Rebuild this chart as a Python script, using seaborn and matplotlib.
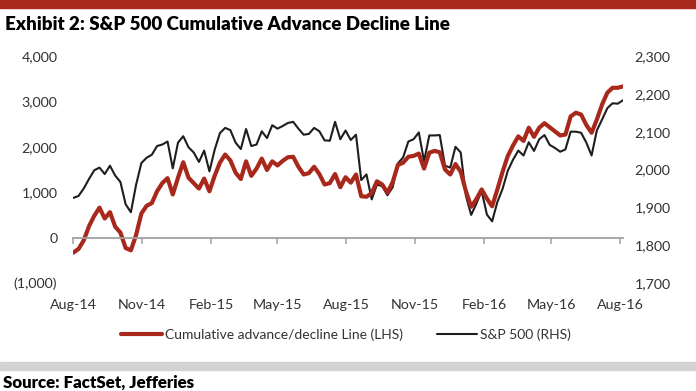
import numpy as np
import pandas as pd
import matplotlib
matplotlib.use("Agg")
import matplotlib.pyplot as plt
import matplotlib.dates as mdates
import seaborn as sns
from matplotlib.lines import Line2D

# ---- data (weekly, Friday closes) ----
start_date = "2014-08-01"
n_weeks = 106
ad_line = [-330, -250, -60, 250, 480, 660, 420, 560, 240, 110,
           -230, -280, 60, 530, 700, 760, 1020, 1200, 1310, 950,
           1320, 1660, 1320, 1200, 1080, 1300, 1020, 1360, 1650, 1830,
           1700, 1430, 1290, 1680, 1360, 1520, 1740, 1490, 1680, 1590,
           1690, 1770, 1780, 1560, 1390, 1420, 1560, 1400, 1170, 1200,
           1400, 1110, 1330, 1210, 1390, 910, 900, 980, 1240, 1170,
           990, 1220, 1600, 1650, 1780, 1800, 1850, 1520, 1870, 1910,
           1880, 1500, 1390, 1620, 1450, 1020, 680, 850, 1060, 860,
           690, 1060, 1450, 1800, 2030, 2230, 2130, 2420, 2220, 2420,
           2520, 2430, 2340, 2250, 2270, 2670, 2750, 2710, 2480, 2310,
           2600, 2930, 3190, 3300, 3300, 3330]
spx = [1925, 1930, 1950, 1975, 1998, 2005, 1988, 2010, 1984, 1967,
       1908, 1887, 1960, 2017, 2031, 2039, 2062, 2066, 2074, 2003,
       2071, 2088, 2059, 2045, 2020, 2050, 1995, 2052, 2096, 2110,
       2104, 2071, 2054, 2107, 2062, 2066, 2101, 2083, 2117, 2108,
       2115, 2123, 2126, 2108, 2092, 2094, 2110, 2101, 2077, 2076,
       2126, 2080, 2103, 2078, 2092, 1972, 1987, 1921, 1960, 1956,
       1932, 1953, 2016, 2032, 2074, 2080, 2098, 2022, 2090, 2090,
       2091, 2010, 2005, 2060, 2045, 1930, 1880, 1910, 1943, 1881,
       1863, 1914, 1949, 1997, 2026, 2050, 2037, 2072, 2049, 2080,
       2091, 2065, 2057, 2047, 2053, 2100, 2100, 2097, 2071, 2037,
       2103, 2132, 2162, 2175, 2174, 2183]

tick_dates = ["2014-08-01", "2014-11-01", "2015-02-01", "2015-05-01", "2015-08-01",
              "2015-11-01", "2016-02-01", "2016-05-01", "2016-08-01"]
tick_labels = ["Aug-14", "Nov-14", "Feb-15", "May-15", "Aug-15",
               "Nov-15", "Feb-16", "May-16", "Aug-16"]
left_ticks = [-1000, 0, 1000, 2000, 3000, 4000]
left_labels = ["(1,000)", "0", "1,000", "2,000", "3,000", "4,000"]
right_ticks = [1700, 1800, 1900, 2000, 2100, 2200, 2300]
right_labels = ["1,700", "1,800", "1,900", "2,000", "2,100", "2,200", "2,300"]

title = "Exhibit 2: S&P 500 Cumulative Advance Decline Line"
source = "Source: FactSet, Jefferies"
label_ad = "Cumulative advance/decline Line (LHS)"
label_spx = "S&P 500 (RHS)"

dates = pd.date_range(start_date, periods=n_weeks, freq="7D")
df = pd.DataFrame({"date": dates, "ad": ad_line, "spx": spx})

RED = "#A8281C"
BLACK = "#1E1E1E"
GRAY_TXT = "#333333"

sns.set_theme(style="white")
plt.rcParams["font.family"] = ["Lato", "DejaVu Sans"]

W, H = 696, 391
fig = plt.figure(figsize=(W / 100, H / 100), dpi=100)

ax_l, ax_r, ax_b, ax_t = 73.3, 623.0, 283.0, 56.0
ax = fig.add_axes([ax_l / W, 1 - ax_b / H, (ax_r - ax_l) / W, (ax_b - ax_t) / H])
ax2 = ax.twinx()

sns.lineplot(data=df, x="date", y="ad", ax=ax, color=RED, linewidth=3.0, legend=False)
sns.lineplot(data=df, x="date", y="spx", ax=ax2, color=BLACK, linewidth=1.5, legend=False)
ax.set_zorder(ax2.get_zorder() + 1)
ax.patch.set_visible(False)

ax.set_xlim(dates[0], dates[-1])
ax.set_ylim(-1000, 4000)
ax2.set_ylim(1700, 2300)

for a in (ax, ax2):
    for s in a.spines.values():
        s.set_visible(False)
    a.set_xlabel("")
    a.set_ylabel("")
    a.grid(False)

# category axis crossing at zero
ax.spines["bottom"].set_visible(True)
ax.spines["bottom"].set_position(("data", 0))
ax.spines["bottom"].set_color("#A0A0A0")
ax.spines["bottom"].set_linewidth(1.3)
ax.set_xticks(pd.to_datetime(tick_dates))
ax.set_xticklabels(tick_labels)
ax.tick_params(axis="x", direction="out", length=4.5, width=1.1, color="#A0A0A0",
               pad=40, labelsize=10.3, labelcolor=GRAY_TXT, bottom=True)

ax.set_yticks(left_ticks)
ax.set_yticklabels(left_labels)
ax.tick_params(axis="y", length=0, pad=11.5, labelsize=10.3, labelcolor=GRAY_TXT)
ax2.set_yticks(right_ticks)
ax2.set_yticklabels(right_labels)
ax2.tick_params(axis="y", length=0, pad=8.5, labelsize=10.3, labelcolor=GRAY_TXT)

# header band and title
fig.patches.append(plt.Rectangle((0, 1 - 8 / H), 1, 8 / H, transform=fig.transFigure,
                                 color=RED, zorder=0))
fig.text(5 / W, 1 - 25 / H, title, ha="left", va="center", fontsize=13.5,
         fontweight="heavy", color="black")

# legend
handles = [Line2D([], [], color=RED, linewidth=3.0),
           Line2D([], [], color=BLACK, linewidth=1.5)]
fig.legend(handles, [label_ad, label_spx], loc="center", bbox_to_anchor=(346 / W, 1 - 335 / H),
           ncol=2, frameon=False, fontsize=10, handlelength=2.9, handletextpad=0.2,
           columnspacing=2.45, labelcolor=GRAY_TXT)

# footer band and source
fig.patches.append(plt.Rectangle((0, 1 - 370 / H), 1, 8 / H, transform=fig.transFigure,
                                 color="#D3D3D3", zorder=0))
fig.text(3 / W, 1 - 383 / H, source, ha="left", va="center", fontsize=12.2,
         fontweight="heavy", color="black")

fig.savefig("out.png", dpi=100)
